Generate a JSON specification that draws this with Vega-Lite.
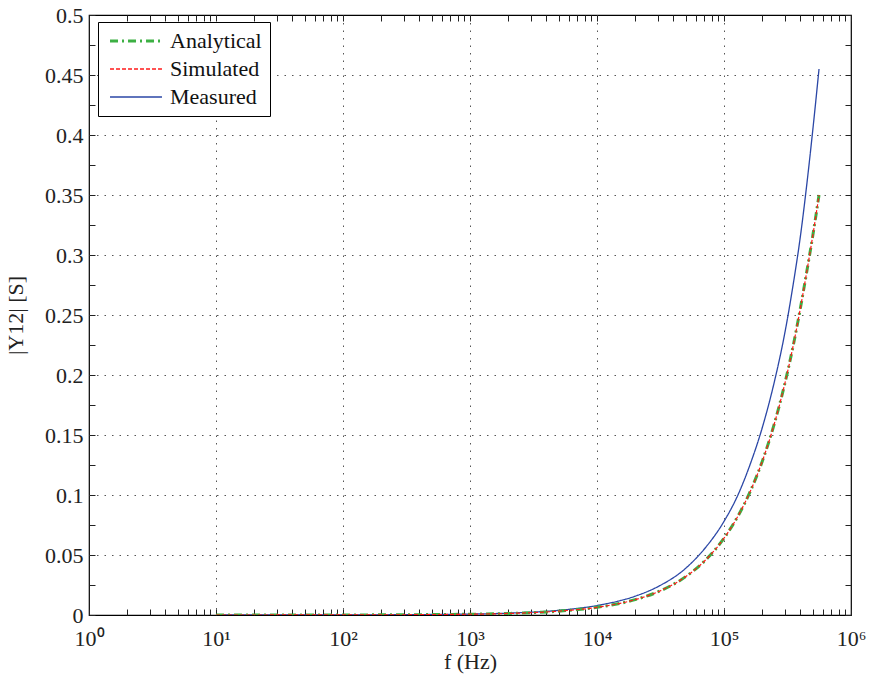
{
  "$schema": "https://vega.github.io/schema/vega-lite/v6.json",
  "autosize": "none",
  "width": 762,
  "height": 600,
  "padding": {"left": 89, "top": 15, "right": 21, "bottom": 71},
  "background": "white",
  "config": {
    "font": "serif",
    "view": {"stroke": "#000", "strokeWidth": 1.2}
  },
  "datasets": {
    "curves": [
      {"f": 10, "v": 0.0000064, "series": "Analytical"},
      {"f": 100, "v": 0.000064, "series": "Analytical"},
      {"f": 1000, "v": 0.00064, "series": "Analytical"},
      {"f": 2000, "v": 0.00128, "series": "Analytical"},
      {"f": 5000, "v": 0.0032, "series": "Analytical"},
      {"f": 10000, "v": 0.0064, "series": "Analytical"},
      {"f": 20000, "v": 0.0128, "series": "Analytical"},
      {"f": 30000, "v": 0.0192, "series": "Analytical"},
      {"f": 50000, "v": 0.032, "series": "Analytical"},
      {"f": 70000, "v": 0.0448, "series": "Analytical"},
      {"f": 100000, "v": 0.064, "series": "Analytical"},
      {"f": 130000, "v": 0.0832, "series": "Analytical"},
      {"f": 160000, "v": 0.1024, "series": "Analytical"},
      {"f": 200000, "v": 0.128, "series": "Analytical"},
      {"f": 250000, "v": 0.16, "series": "Analytical"},
      {"f": 300000, "v": 0.192, "series": "Analytical"},
      {"f": 350000, "v": 0.224, "series": "Analytical"},
      {"f": 400000, "v": 0.256, "series": "Analytical"},
      {"f": 450000, "v": 0.287, "series": "Analytical"},
      {"f": 500000, "v": 0.316, "series": "Analytical"},
      {"f": 560000, "v": 0.35, "series": "Analytical"},
      {"f": 10, "v": 0.0000064, "series": "Simulated"},
      {"f": 100, "v": 0.000064, "series": "Simulated"},
      {"f": 1000, "v": 0.00064, "series": "Simulated"},
      {"f": 2000, "v": 0.00128, "series": "Simulated"},
      {"f": 5000, "v": 0.0032, "series": "Simulated"},
      {"f": 10000, "v": 0.0064, "series": "Simulated"},
      {"f": 20000, "v": 0.0128, "series": "Simulated"},
      {"f": 30000, "v": 0.0192, "series": "Simulated"},
      {"f": 50000, "v": 0.032, "series": "Simulated"},
      {"f": 70000, "v": 0.0448, "series": "Simulated"},
      {"f": 100000, "v": 0.064, "series": "Simulated"},
      {"f": 130000, "v": 0.0832, "series": "Simulated"},
      {"f": 160000, "v": 0.1024, "series": "Simulated"},
      {"f": 200000, "v": 0.128, "series": "Simulated"},
      {"f": 250000, "v": 0.16, "series": "Simulated"},
      {"f": 300000, "v": 0.192, "series": "Simulated"},
      {"f": 350000, "v": 0.224, "series": "Simulated"},
      {"f": 400000, "v": 0.256, "series": "Simulated"},
      {"f": 450000, "v": 0.287, "series": "Simulated"},
      {"f": 500000, "v": 0.316, "series": "Simulated"},
      {"f": 560000, "v": 0.35, "series": "Simulated"},
      {"f": 10, "v": 0.0000078, "series": "Measured"},
      {"f": 100, "v": 0.000078, "series": "Measured"},
      {"f": 1000, "v": 0.00078, "series": "Measured"},
      {"f": 2000, "v": 0.00156, "series": "Measured"},
      {"f": 5000, "v": 0.0039, "series": "Measured"},
      {"f": 10000, "v": 0.0079, "series": "Measured"},
      {"f": 20000, "v": 0.0157, "series": "Measured"},
      {"f": 30000, "v": 0.0235, "series": "Measured"},
      {"f": 50000, "v": 0.039, "series": "Measured"},
      {"f": 70000, "v": 0.055, "series": "Measured"},
      {"f": 100000, "v": 0.078, "series": "Measured"},
      {"f": 130000, "v": 0.101, "series": "Measured"},
      {"f": 160000, "v": 0.125, "series": "Measured"},
      {"f": 200000, "v": 0.156, "series": "Measured"},
      {"f": 250000, "v": 0.195, "series": "Measured"},
      {"f": 300000, "v": 0.234, "series": "Measured"},
      {"f": 350000, "v": 0.275, "series": "Measured"},
      {"f": 400000, "v": 0.316, "series": "Measured"},
      {"f": 450000, "v": 0.36, "series": "Measured"},
      {"f": 500000, "v": 0.404, "series": "Measured"},
      {"f": 560000, "v": 0.455, "series": "Measured"}
    ]
  },
  "data": {"name": "curves"},
  "resolve": {"axis": {"x": "independent", "y": "independent"}},
  "layer": [
    {
      "transform": [{"filter": "datum.series === 'Measured'"}],
      "mark": {"type": "line", "strokeWidth": 1.3, "clip": true, "interpolate": "monotone"},
      "encoding": {
        "x": {"field": "f", "type": "quantitative", "scale": {"type": "log", "domain": [1, 1000000], "nice": false},
          "axis": {"orient": "bottom", "title": "f (Hz)", "titlePadding": 2, "labelFont": "serif", "titleFont": "serif", "labelFontSize": 22, "titleFontSize": 22, "titleFontWeight": "normal", "labelColor": "#222", "titleColor": "#222", "domain": false, "tickColor": "#222",
            "values": [1,2,3,4,5,6,7,8,9,10,20,30,40,50,60,70,80,90,100,200,300,400,500,600,700,800,900,1000,2000,3000,4000,5000,6000,7000,8000,9000,10000,20000,30000,40000,50000,60000,70000,80000,90000,100000,200000,300000,400000,500000,600000,700000,800000,900000,1000000],
            "labelExpr": "datum.value == 1 ? '10⁰' : datum.value == 10 ? '10¹' : datum.value == 100 ? '10²' : datum.value == 1000 ? '10³' : datum.value == 10000 ? '10⁴' : datum.value == 100000 ? '10⁵' : datum.value == 1000000 ? '10⁶' : ''",
            "labelOverlap": false, "labelFlush": false, "labelPadding": 19,
            "tickSize": -6,
            "grid": true, "gridColor": "#555", "gridDash": [1.5, 6], "gridWidth": 1,
            "gridOpacity": {"condition": {"test": "indexof([10,100,1000,10000,100000], datum.value) >= 0", "value": 1}, "value": 0}}},
        "y": {"field": "v", "type": "quantitative", "scale": {"domain": [0, 0.5], "nice": false},
          "axis": {"orient": "left", "title": "|Y12| [S]", "titlePadding": 17, "labelFont": "serif", "titleFont": "serif", "labelFontSize": 22, "titleFontSize": 22, "titleFontWeight": "normal", "labelColor": "#222", "titleColor": "#222", "domain": false, "tickColor": "#222",
            "values": [0,0.025,0.05,0.075,0.1,0.125,0.15,0.175,0.2,0.225,0.25,0.275,0.3,0.325,0.35,0.375,0.4,0.425,0.45,0.475,0.5],
            "labelExpr": "round(datum.value*40) % 2 == 0 ? format(datum.value, '~g') : ''",
            "labelOverlap": false, "labelFlush": false, "labelPadding": 12,
            "tickSize": -6,
            "grid": true, "gridColor": "#555", "gridDash": [1.5, 6], "gridWidth": 1,
            "gridOpacity": {"condition": {"test": "round(datum.value*40) % 2 == 0 && datum.value > 0.01 && datum.value < 0.49", "value": 1}, "value": 0}}},
        "color": {"field": "series", "type": "nominal", "scale": {"domain": ["Analytical", "Simulated", "Measured"], "range": ["#3cb043", "#ff1a1a", "#2b47a6"]},
          "legend": {"orient": "none", "legendX": 9, "legendY": 7, "title": null, "symbolType": "stroke", "symbolSize": 2700, "symbolOffset": 19, "labelFont": "serif", "labelFontSize": 22, "labelColor": "#111", "labelOffset": 23, "rowPadding": 6, "padding": 8, "strokeColor": "#000", "fillColor": "#fff", "symbolStrokeWidth": 1.3,
            "encode": {"symbols": {"update": {"strokeWidth": {"signal": "datum.value === 'Analytical' ? 3 : 1.3"}}}}}},
        "strokeDash": {"field": "series", "type": "nominal", "scale": {"domain": ["Analytical", "Simulated", "Measured"], "range": [[8, 4, 2, 4], [4, 2], [1, 0]]}, "legend": null}
      }
    },
    {
      "transform": [{"filter": "datum.series === 'Analytical'"}],
      "mark": {"type": "line", "strokeWidth": 3, "clip": true, "interpolate": "monotone"},
      "encoding": {
        "x": {"field": "f", "type": "quantitative", "axis": null},
        "y": {"field": "v", "type": "quantitative", "axis": null},
        "color": {"field": "series", "type": "nominal"},
        "strokeDash": {"field": "series", "type": "nominal", "legend": null}
      }
    },
    {
      "transform": [{"filter": "datum.series === 'Simulated'"}],
      "mark": {"type": "line", "strokeWidth": 1.2, "clip": true, "interpolate": "monotone"},
      "encoding": {
        "x": {"field": "f", "type": "quantitative", "axis": null},
        "y": {"field": "v", "type": "quantitative", "axis": null},
        "color": {"field": "series", "type": "nominal"},
        "strokeDash": {"field": "series", "type": "nominal", "legend": null}
      }
    },
    {
      "transform": [{"filter": "datum.series === 'Measured'"}],
      "mark": {"type": "point", "opacity": 0},
      "encoding": {
        "x": {"field": "f", "type": "quantitative",
          "axis": {"orient": "top", "title": null, "labels": false, "grid": false, "tickSize": -6, "domain": false, "tickColor": "#222",
            "values": [1,2,3,4,5,6,7,8,9,10,20,30,40,50,60,70,80,90,100,200,300,400,500,600,700,800,900,1000,2000,3000,4000,5000,6000,7000,8000,9000,10000,20000,30000,40000,50000,60000,70000,80000,90000,100000,200000,300000,400000,500000,600000,700000,800000,900000,1000000]}},
        "y": {"field": "v", "type": "quantitative",
          "axis": {"orient": "right", "title": null, "labels": false, "grid": false, "tickSize": -6, "domain": false, "tickColor": "#222",
            "values": [0,0.025,0.05,0.075,0.1,0.125,0.15,0.175,0.2,0.225,0.25,0.275,0.3,0.325,0.35,0.375,0.4,0.425,0.45,0.475,0.5]}}
      }
    }
  ]
}
